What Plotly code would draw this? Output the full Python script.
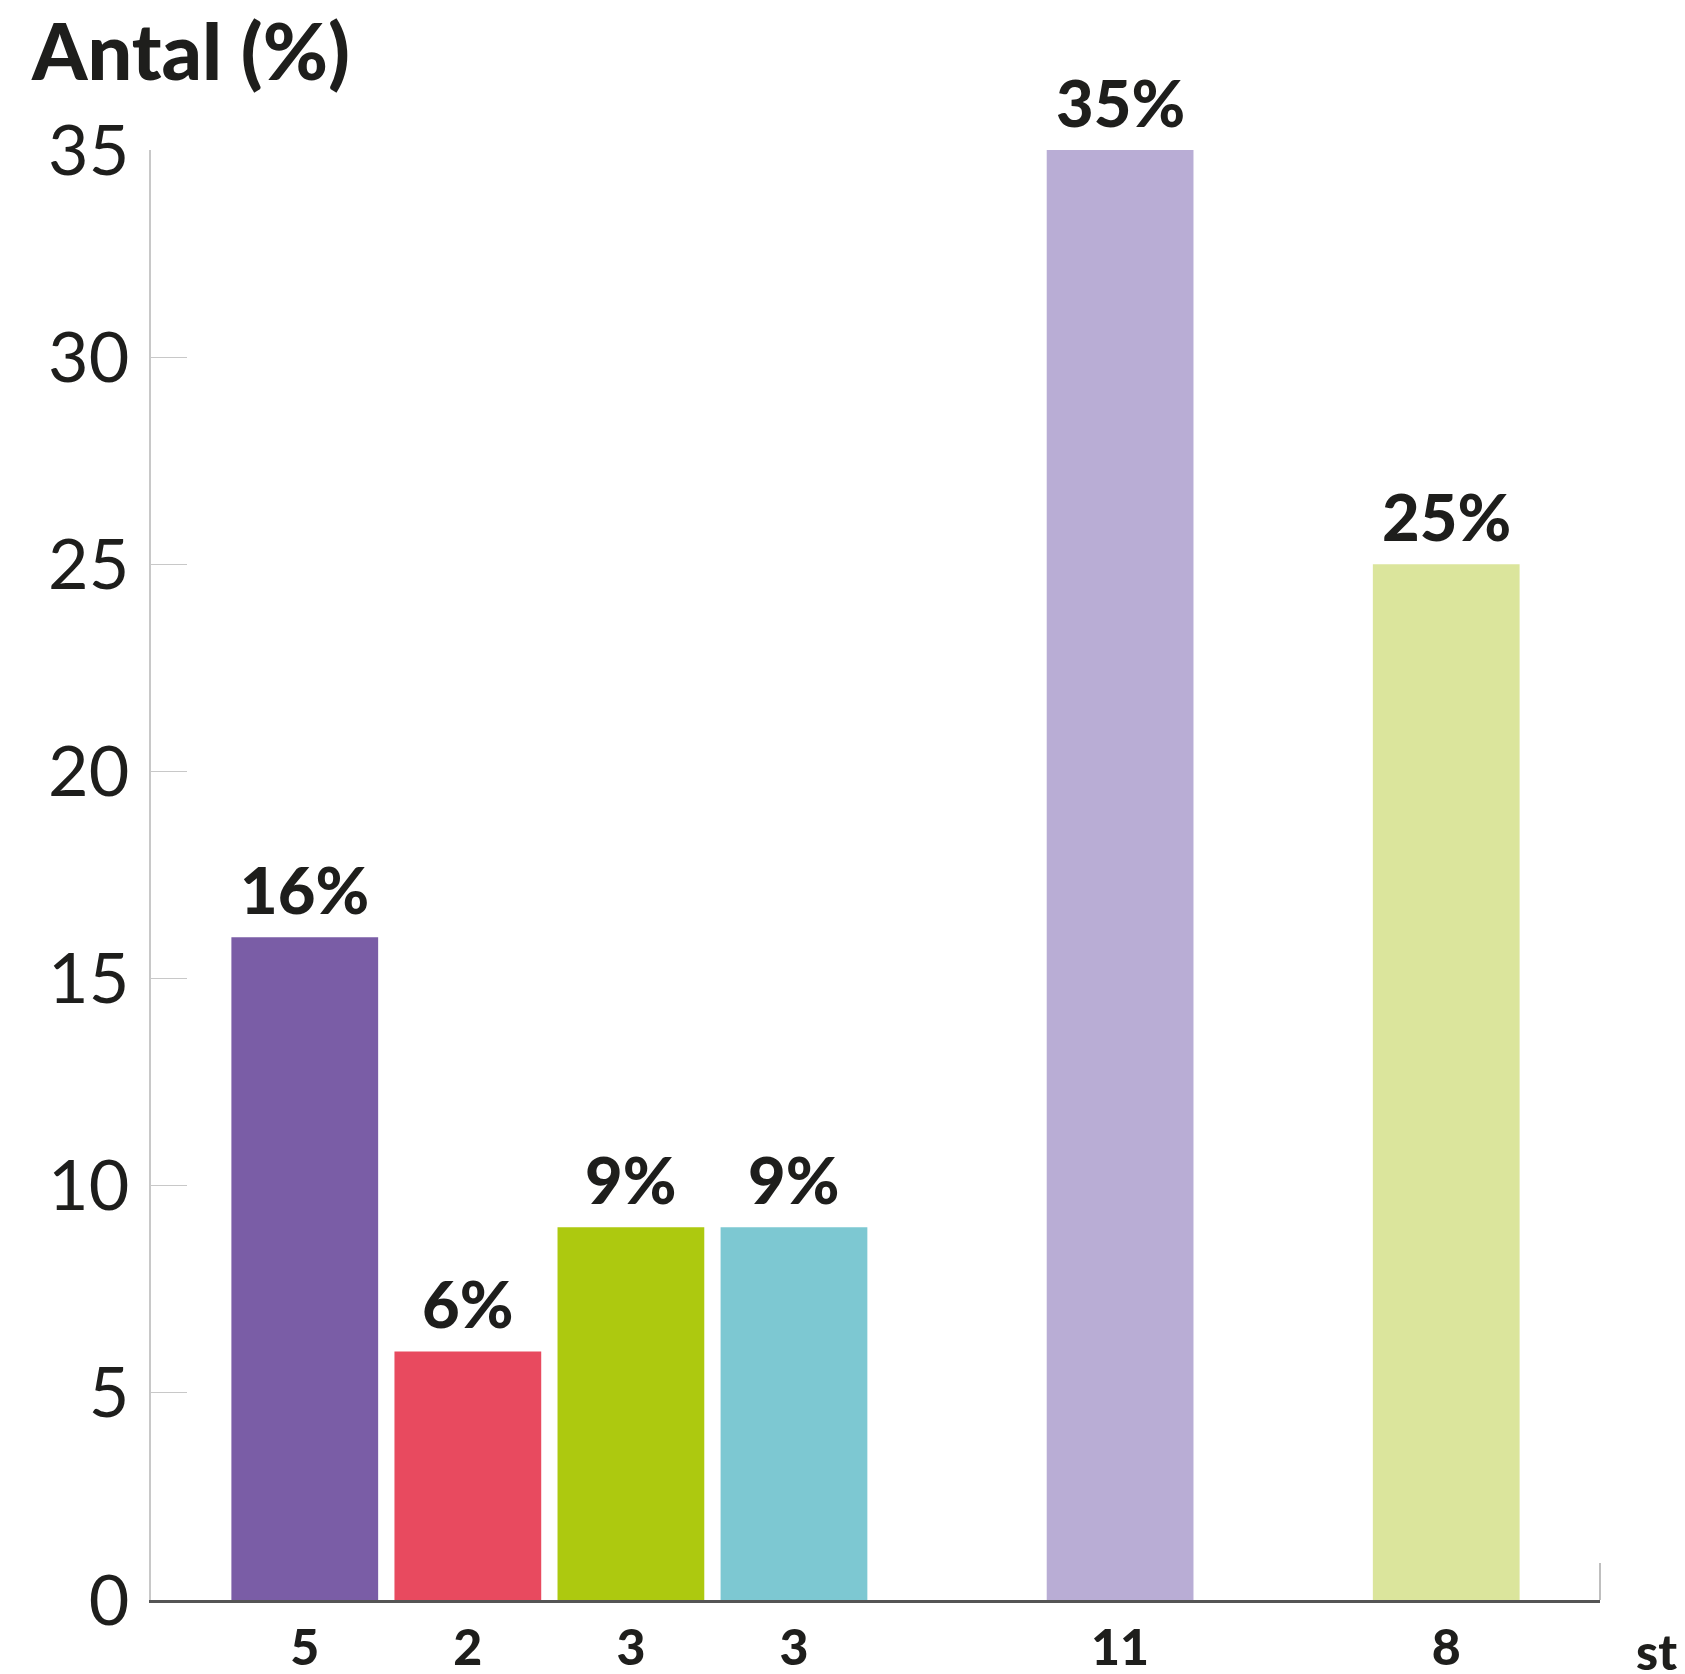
import plotly.graph_objects as go

# Data
bar_x = [0, 1, 2, 3, 5, 7]
percent = [16, 6, 9, 9, 35, 25]
counts = ["5", "2", "3", "3", "11", "8"]
colors = ["#7a5da6", "#e84a5f", "#adc90f", "#7dc8d2", "#b9add5", "#dbe59c"]
y_ticks = [0, 5, 10, 15, 20, 25, 30, 35]
title_text = "Antal (%)"
unit_text = "st"

fig = go.Figure()
fig.add_trace(go.Bar(
    x=bar_x, y=percent, marker=dict(color=colors, line=dict(width=0)),
    width=0.9, hoverinfo="skip",
))

annotations = []
for xv, yv in zip(bar_x, percent):
    annotations.append(dict(
        x=xv, y=yv, xref="x", yref="y", text=f"{yv}%", showarrow=False,
        yanchor="bottom", yshift=7,
        font=dict(family="Lato", size=65, color="#1e1e1c", weight=900),
    ))
annotations.append(dict(
    x=-0.0845, y=1.069, xref="paper", yref="paper", text=title_text,
    showarrow=False, xanchor="left", yanchor="middle",
    font=dict(family="Lato", size=79, color="#1e1e1c", weight=900),
))
annotations.append(dict(
    x=1.039, y=-0.0355, xref="paper", yref="paper", text=unit_text,
    showarrow=False, xanchor="center", yanchor="middle",
    font=dict(family="Lato", size=50, color="#1e1e1c", weight=900),
))

fig.update_layout(
    width=1677, height=1666,
    margin=dict(l=143, r=85, t=142, b=74, autoexpand=False),
    paper_bgcolor="white", plot_bgcolor="white",
    showlegend=False,
    annotations=annotations,
    xaxis=dict(
        range=[-0.943, 7.943], tickmode="array", tickvals=bar_x, ticktext=counts,
        showgrid=False, zeroline=False, showline=True, linecolor="#555555",
        linewidth=2.5, ticks="", ticklabelstandoff=2, automargin=False,
        tickfont=dict(family="Lato", size=50, color="#1e1e1c", weight=900),
    ),
    yaxis=dict(
        range=[0, 35], tickmode="array", tickvals=y_ticks,
        showgrid=False, zeroline=False, showline=True, linecolor="#c8c8c8",
        linewidth=1.5, ticks="inside", ticklen=36, tickcolor="#c8c8c8",
        tickwidth=1.2, ticklabelstandoff=6, automargin=False,
        tickfont=dict(family="Lato", size=70, color="#1e1e1c", weight=400),
    ),
    shapes=[dict(type="line", xref="paper", yref="paper", x0=1, x1=1,
                 y0=0, y1=0.0255, line=dict(color="#aaaaaa", width=1.5))],
)

fig.write_html("out.html")
